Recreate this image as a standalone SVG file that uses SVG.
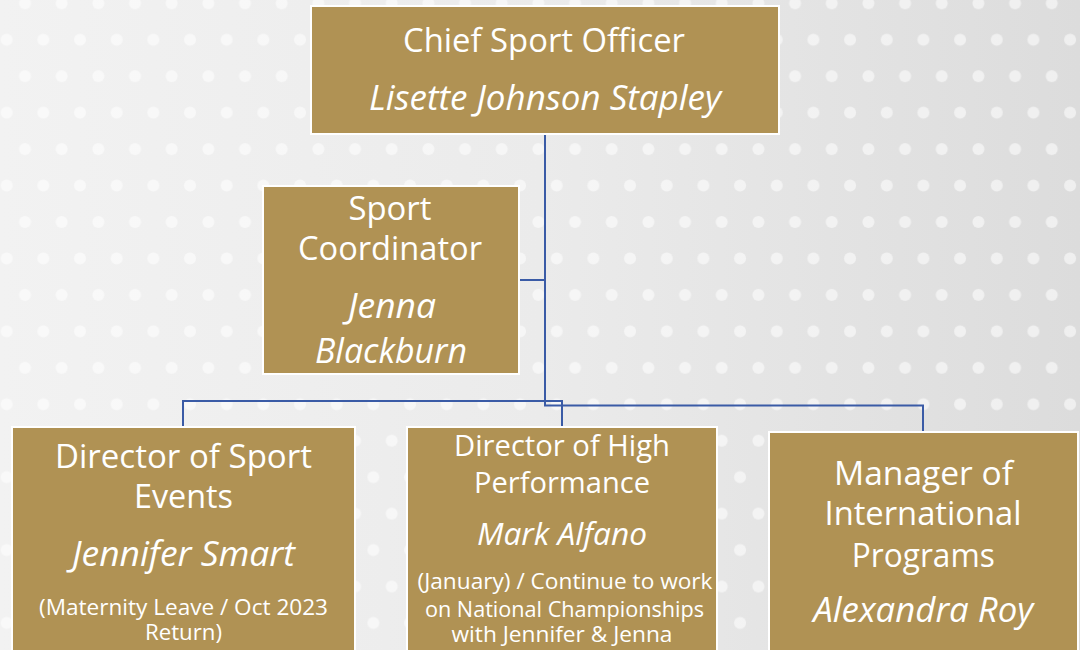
<svg xmlns="http://www.w3.org/2000/svg" width="1080" height="650" viewBox="0 0 1080 650">
  <defs>
    <linearGradient id="bg" x1="0" y1="0" x2="1" y2="0">
      <stop offset="0" stop-color="#f2f2f2"/>
      <stop offset="0.5" stop-color="#ebebeb"/>
      <stop offset="1" stop-color="#dcdcdc"/>
    </linearGradient>
    <pattern id="dots" patternUnits="userSpaceOnUse" x="6.67" y="3.3" width="36.67" height="72.9">
      <g fill="#ffffff" fill-opacity="0.55">
        <circle cx="18.33" cy="0" r="6"/>
        <circle cx="18.33" cy="72.9" r="6"/>
        <circle cx="0" cy="36.45" r="6"/>
        <circle cx="36.67" cy="36.45" r="6"/>
      </g>
    </pattern>
    <style>
      .box { fill: #b09254; stroke: #ffffff; stroke-width: 2; }
      .t { font-family: "Open Sans", "Noto Sans", sans-serif; fill: #ffffff; text-anchor: middle; }
      .n { font-style: italic; }
      .conn { fill: none; stroke: #3a5ba6; stroke-width: 2; }
    </style>
  </defs>
  <rect x="0" y="0" width="1080" height="650" fill="url(#bg)"/>
  <rect x="0" y="0" width="1080" height="650" fill="url(#dots)"/>

  <g id="connectors">
    <path class="conn" d="M545,133 V405.5 H923 V433"/>
    <path class="conn" d="M519,280 H545"/>
    <path class="conn" d="M183,428 V401 H562 V428"/>
  </g>

  <g id="chief-sport-officer">
    <rect class="box" x="311" y="6" width="468" height="128"/>
    <text class="t" x="544" y="52" font-size="33" textLength="282" lengthAdjust="spacingAndGlyphs">Chief Sport Officer</text>
    <text class="t n" x="545" y="110" font-size="34" textLength="352" lengthAdjust="spacingAndGlyphs">Lisette Johnson Stapley</text>
  </g>

  <g id="sport-coordinator">
    <rect class="box" x="263" y="186" width="256" height="188"/>
    <text class="t" x="390" y="220" font-size="33" textLength="83" lengthAdjust="spacingAndGlyphs">Sport</text>
    <text class="t" x="390" y="260" font-size="33" textLength="184" lengthAdjust="spacingAndGlyphs">Coordinator</text>
    <text class="t n" x="392" y="318" font-size="34" textLength="88" lengthAdjust="spacingAndGlyphs">Jenna</text>
    <text class="t n" x="391" y="362.5" font-size="34" textLength="152" lengthAdjust="spacingAndGlyphs">Blackburn</text>
  </g>

  <g id="director-sport-events">
    <rect class="box" x="12" y="427" width="343" height="260"/>
    <text class="t" x="183.5" y="468" font-size="33" textLength="257" lengthAdjust="spacingAndGlyphs">Director of Sport</text>
    <text class="t" x="183.5" y="508" font-size="33" textLength="99" lengthAdjust="spacingAndGlyphs">Events</text>
    <text class="t n" x="183.5" y="566" font-size="34" textLength="223" lengthAdjust="spacingAndGlyphs">Jennifer Smart</text>
    <text class="t" x="183.5" y="615" font-size="22.5" textLength="289" lengthAdjust="spacingAndGlyphs">(Maternity Leave / Oct 2023</text>
    <text class="t" x="183.5" y="640" font-size="22.5" textLength="77" lengthAdjust="spacingAndGlyphs">Return)</text>
  </g>

  <g id="director-high-performance">
    <rect class="box" x="407" y="427" width="310" height="260"/>
    <text class="t" x="562" y="456" font-size="29" textLength="216" lengthAdjust="spacingAndGlyphs">Director of High</text>
    <text class="t" x="562" y="492.5" font-size="29" textLength="176" lengthAdjust="spacingAndGlyphs">Performance</text>
    <text class="t n" x="562" y="545" font-size="31" textLength="170" lengthAdjust="spacingAndGlyphs">Mark Alfano</text>
    <text class="t" x="565" y="588.5" font-size="22.5" textLength="295" lengthAdjust="spacingAndGlyphs">(January) / Continue to work</text>
    <text class="t" x="564.5" y="616.5" font-size="22.5" textLength="279" lengthAdjust="spacingAndGlyphs">on National Championships</text>
    <text class="t" x="562" y="641.5" font-size="22.5" textLength="221" lengthAdjust="spacingAndGlyphs">with Jennifer &amp; Jenna</text>
  </g>

  <g id="manager-international-programs">
    <rect class="box" x="769" y="432" width="309" height="260"/>
    <text class="t" x="923.5" y="485" font-size="33" textLength="179" lengthAdjust="spacingAndGlyphs">Manager of</text>
    <text class="t" x="923" y="525" font-size="33" textLength="197" lengthAdjust="spacingAndGlyphs">International</text>
    <text class="t" x="923.3" y="566.5" font-size="33" textLength="143" lengthAdjust="spacingAndGlyphs">Programs</text>
    <text class="t n" x="923.3" y="621.5" font-size="34" textLength="220" lengthAdjust="spacingAndGlyphs">Alexandra Roy</text>
  </g>
</svg>
